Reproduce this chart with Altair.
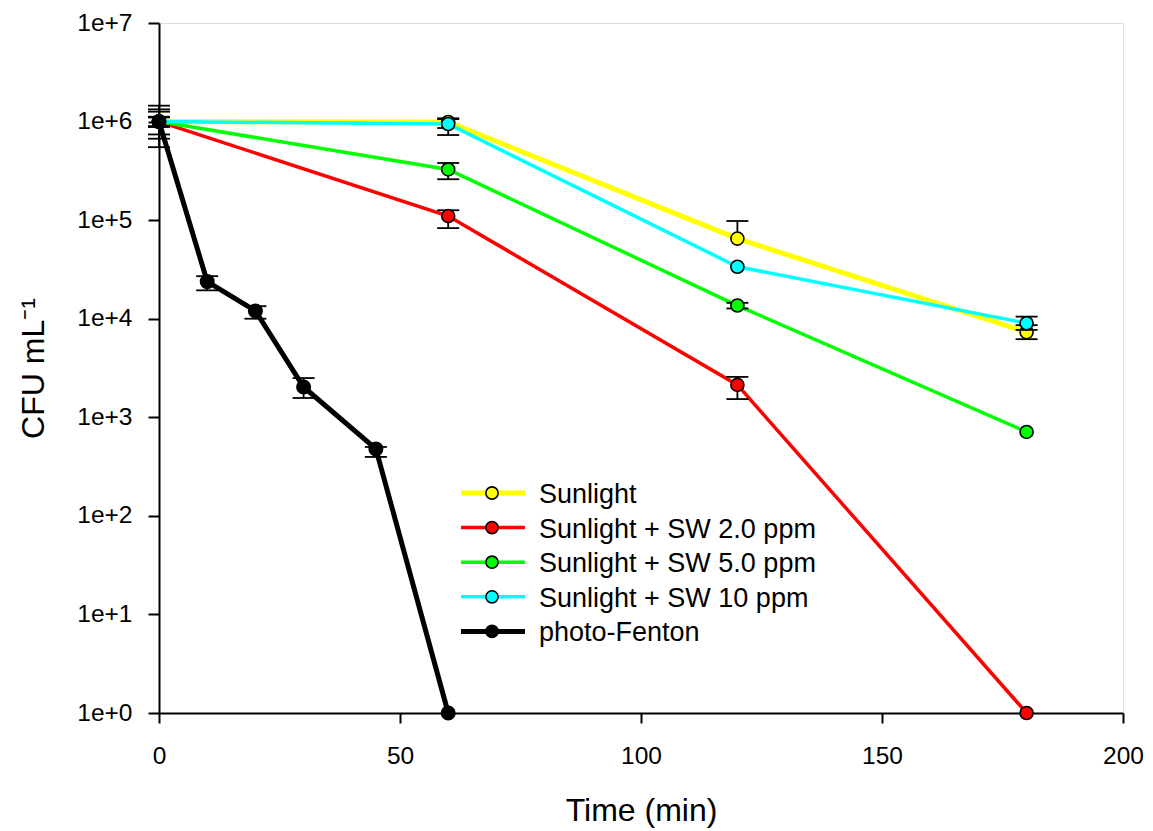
import altair as alt
import pandas as pd

# ---------------- data ----------------
SERIES = ["Sunlight", "Sunlight + SW 2.0 ppm", "Sunlight + SW 5.0 ppm",
          "Sunlight + SW 10 ppm", "photo-Fenton"]
COLORS = ["#FFFF00", "#FF0000", "#00FF00", "#00FFFF", "#000000"]
LINE_W = [5, 3.5, 3.5, 3.5, 5]

time_sun = [0, 60, 120, 180]
sunlight = [1.0e6, 9.9e5, 6.5e4, 7.3e3]
sunlight_lo = [6.7e5, 8.6e5, None, 6.2e3]
sunlight_hi = [1.33e6, 1.08e6, 9.8e4, 8.6e3]

sw2 = [1.0e6, 1.10e5, 2.13e3, 1.0]
sw2_lo = [7.4e5, 8.3e4, 1.53e3, None]
sw2_hi = [1.26e6, 1.26e5, 2.57e3, None]

sw5 = [1.0e6, 3.27e5, 1.36e4, 710]
sw5_lo = [5.5e5, 2.6e5, 1.27e4, None]
sw5_hi = [1.45e6, 3.8e5, 1.45e4, None]

sw10 = [1.0e6, 9.45e5, 3.37e4, 9.0e3]
sw10_lo = [8.8e5, 7.3e5, None, 7.7e3]
sw10_hi = [1.12e6, 1.06e6, None, 1.05e4]

time_pf = [0, 10, 20, 30, 45, 60]
pf = [1.0e6, 2.38e4, 1.2e4, 2.03e3, 478, 1.0]
pf_lo = [9.0e5, 1.94e4, 1.0e4, 1.57e3, 396, None]
pf_hi = [1.1e6, 2.7e4, 1.34e4, 2.5e3, 500, None]

X_TICKS = [0, 50, 100, 150, 200]
Y_TICKS = [1, 10, 100, 1e3, 1e4, 1e5, 1e6, 1e7]

series_data = [
    (time_sun, sunlight, sunlight_lo, sunlight_hi),
    (time_sun, sw2, sw2_lo, sw2_hi),
    (time_sun, sw5, sw5_lo, sw5_hi),
    (time_sun, sw10, sw10_lo, sw10_hi),
    (time_pf, pf, pf_lo, pf_hi),
]

FONT = "Liberation Sans"
W, H = 964, 690

x_enc = alt.X("t:Q", scale=alt.Scale(domain=[0, 200], nice=False),
              axis=alt.Axis(values=X_TICKS, title="Time (min)", grid=False,
                            labelFont=FONT, labelFontSize=24.5, labelColor="black",
                            labelBaseline="alphabetic", labelPadding=40,
                            labelFlush=False, labelOverlap=False,
                            tickSize=10, tickWidth=2, tickColor="black",
                            domainColor="black", domainWidth=2,
                            titleFont=FONT, titleFontSize=32, titleFontWeight="normal",
                            titleColor="black", titleBaseline="alphabetic",
                            titleY=107, titleX=W / 2))
y_scale = alt.Scale(type="log", domain=[1, 1e7], nice=False)
y_axis = alt.Axis(values=Y_TICKS, title="CFU mL⁻¹", grid=False,
                  labelExpr="'1e+' + round(log(datum.value) / LN10)",
                  labelFont=FONT, labelFontSize=24.5, labelColor="black",
                  labelPadding=16, labelBaseline="middle",
                  labelFlush=False, labelOverlap=False,
                  tickSize=11, tickWidth=2, tickColor="black",
                  domainColor="black", domainWidth=2,
                  titleFont=FONT, titleFontSize=32, titleFontWeight="normal",
                  titleColor="black", titleAngle=270, titleAlign="center",
                  titleBaseline="alphabetic", titleX=-116, titleY=H / 2)

layers = []
for name, color, lw, (ts, vs, los, his) in zip(SERIES, COLORS, LINE_W, series_data):
    df = pd.DataFrame({"t": ts, "v": vs, "series": name})
    err = pd.DataFrame({"t": ts, "lo": los, "hi": his})
    layers.append(alt.Chart(df).mark_line(color=color, strokeWidth=lw).encode(
        x=x_enc, y=alt.Y("v:Q", scale=y_scale, axis=y_axis)))
    # vertical bars from lo to hi (or to the value when one side is missing)
    bars = pd.DataFrame({"t": ts,
                         "a": [l if l is not None else v for l, v in zip(los, vs)],
                         "b": [h if h is not None else v for h, v in zip(his, vs)]})
    bars = bars[[not (l is None and h is None) for l, h in zip(los, his)]]
    if len(bars):
        layers.append(alt.Chart(bars).mark_rule(color="black", strokeWidth=1.8).encode(
            x="t:Q", y=alt.Y("a:Q", scale=y_scale), y2="b:Q"))
    for col in ("lo", "hi"):
        edf = err.dropna(subset=[col])
        if len(edf):
            layers.append(alt.Chart(edf).mark_rule(color="black", strokeWidth=1.8,
                                                   xOffset=-11, x2Offset=11).encode(
                x="t:Q", x2="t:Q", y=alt.Y(f"{col}:Q", scale=y_scale)))
    layers.append(alt.Chart(df).mark_circle(
        size=180 if name == "photo-Fenton" else 170, opacity=1, fill=color,
        stroke="black", strokeWidth=1.6).encode(
        x="t:Q", y=alt.Y("v:Q", scale=y_scale)))

# ---------------- legend ----------------
dummy = pd.DataFrame({"a": [0]})
for i, (name, color, lw) in enumerate(zip(SERIES, COLORS, LINE_W)):
    yy = 470 + 34.6 * i
    layers.append(alt.Chart(dummy).mark_rule(color=color, strokeWidth=lw).encode(
        x=alt.value(302), x2=alt.value(366), y=alt.value(yy)))
    layers.append(alt.Chart(dummy).mark_circle(
        size=150, opacity=1, fill=color, stroke="black", strokeWidth=1.6).encode(
        x=alt.value(333), y=alt.value(yy)))
    layers.append(alt.Chart(dummy).mark_text(
        align="left", baseline="alphabetic", font=FONT, fontSize=27, color="black").encode(
        x=alt.value(380), y=alt.value(yy + 10), text=alt.value(name)))

chart = alt.layer(*layers).properties(
    width=W, height=H,
    autosize=alt.AutoSizeParams(type="none"),
    padding={"left": 159, "top": 23, "right": 30, "bottom": 118},
).configure_view(stroke="black", strokeWidth=2).configure(background="white")

chart.save("out.html", embed_options={"renderer": "svg", "actions": False})
